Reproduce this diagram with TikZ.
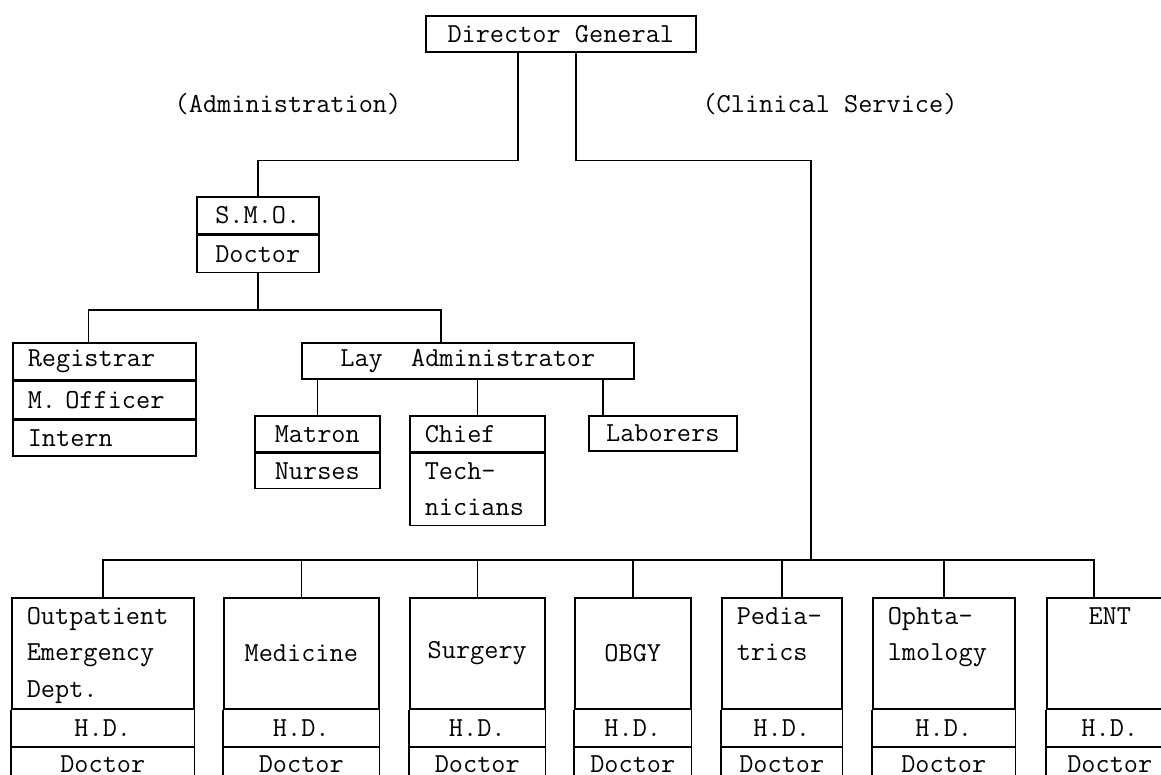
\documentclass[tikz,border=0pt]{standalone}
\usepackage{fontspec}
\usetikzlibrary{positioning}

\begin{document}
\begin{tikzpicture}[x=1pt,y=-1pt,line width=1.6pt,
  every node/.style={font=\ttfamily\fontsize{27.5}{36.5}\selectfont,inner sep=0pt},
  cell/.style={draw,anchor=north west,align=center,minimum height=36pt},
  lcell/.style={cell,align=left,inner xsep=15pt}]
  \useasboundingbox (0,0) rectangle (1161,775);
  \clip (0,0) rectangle (1161,775);

  % top
  \node[cell,minimum width=270pt] (dg) at (425,15) {Director General};
  \node (adm) at (288,104) {(Administration)};
  \node (cli) at (830,104) {(Clinical Service)};

  % administration side
  \node[cell,minimum width=122pt,minimum height=37pt] (smo) at (196,196) {S.M.O.};
  \node[cell,minimum width=122pt,minimum height=37pt] (smo-dr) at (smo.south west) {Doctor};
  \node[lcell,text width=153pt,minimum height=37pt] (reg) at (12,342) {Registrar};
  \node[lcell,text width=153pt,minimum height=37pt] (mof) at (reg.south west) {M. Officer};
  \node[lcell,text width=153pt] (int) at (mof.south west) {Intern};
  \node[cell,minimum width=332pt] (lay) at (301,342) {Lay\ \ Administrator};
  \node[cell,minimum width=125pt] (mat) at (254,415) {Matron};
  \node[cell,minimum width=125pt,minimum height=35pt] (nur) at (mat.south west) {Nurses};
  \node[lcell,text width=105pt] (chf) at (409,415) {Chief};
  \node[lcell,text width=105pt,minimum height=72pt] (tec) at (chf.south west) {Tech-\\nicians};
  \node[cell,minimum width=148pt,minimum height=35pt] (lab) at (588,415) {Laborers};

  % clinical side
  \node[lcell,text width=152pt,minimum height=111pt] (ope) at (11,597)
    {\strut Outpatient\\\strut Emergency\\\strut Dept.};
  \node[cell,minimum width=155pt,minimum height=111pt] (med) at (223,597) {Medicine};
  \node[cell,minimum width=135pt,minimum height=111pt] (sur) at (409,597) {Surgery};
  \node[cell,minimum width=116pt,minimum height=111pt] (obg) at (574,597) {OBGY};
  \node[lcell,text width=90pt,minimum height=111pt] (ped) at (721,597)
    {\strut Pedia-\\\strut trics\\\strut};
  \node[lcell,text width=112pt,minimum height=111pt] (oph) at (872,597)
    {\strut Ophta-\\\strut lmology\\\strut};
  \node[cell,minimum width=126pt,minimum height=111pt] (ent) at (1046,597)
    {\strut ENT\\\strut\\\strut};

  \foreach \dep in {ope,med,sur,obg,ped,oph,ent} {
    \draw (\dep.south west) -- ++(0,80) (\dep.south east) -- ++(0,80);
    \node[below=0pt of \dep,minimum height=36pt] (\dep-hd) {H.D.};
    \draw (\dep-hd.south -| \dep.west) -- (\dep-hd.south -| \dep.east);
    \node[below=8pt of \dep-hd] (\dep-dr) {Doctor};
  }

  % lines
  \coordinate (cbus) at (811,560);
  \draw ([xshift=-43pt]dg.south) -- ++(0,108) -| (smo.north);
  \draw ([xshift=15pt]dg.south) -- ++(0,108) -| (cbus);
  \draw (smo-dr.south) -- ++(0,37) coordinate (sbus);
  \draw ([xshift=-16pt]reg.north) |- (sbus) -| ([xshift=-27pt]lay.north);
  \draw (mat.north) -- (mat.north |- lay.south);
  \draw (chf.north) -- (chf.north |- lay.south);
  \draw (lab.north west) ++(15,0) coordinate (labtop) -- (labtop |- lay.south);
  \draw (ope.north) |- (cbus) -| ([xshift=-16pt]ent.north);
  \foreach \dep in {med,sur,obg,ped,oph}
    \draw (\dep.north) -- (\dep.north |- cbus);
\end{tikzpicture}
\end{document}
